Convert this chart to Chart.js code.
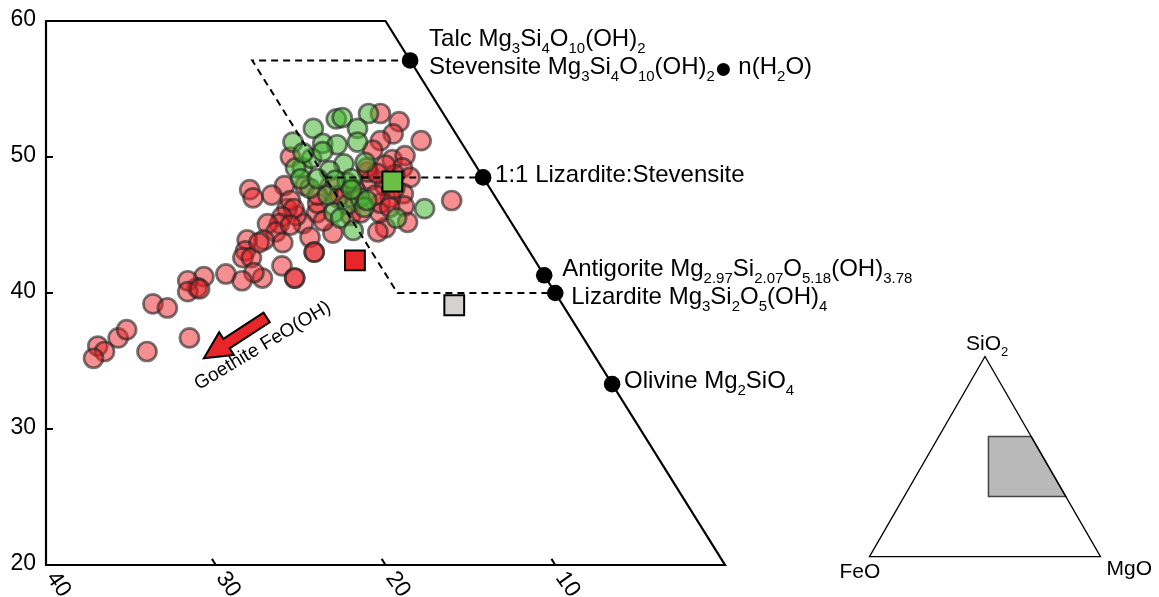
<!DOCTYPE html>
<html><head><meta charset="utf-8">
<script src="https://cdn.jsdelivr.net/npm/chart.js@4.4.1/dist/chart.umd.min.js"></script>
<style>html,body{margin:0;padding:0;background:#fff;overflow:hidden}#wrap{width:1159px;height:597px}</style>
</head><body><div id="wrap"><canvas id="c" width="1159" height="597"></canvas></div>
<script>
// ---- data: molar % FeO and SiO2 (MgO = remainder) ----
const redFeO = [3.7,2.9,3.7,2.3,4.7,5.5,4.7,3.8,4.4,4.3,5.3,5.7,2.7,6.1,7.6,7.4,7.0,8.2,10.9,11.1,10.7,11.0,12.3,12.4,12.7,8.0,6.7,6.1,6.2,6.6,9.3,9.1,8.4,7.0,6.6,9.2,5.1,5.3,10.8,10.4,12.0,
  10.6,6.5,6.1,9.3,8.5,5.6,
  14.2,14.3,13.1,12.2,12.3,13.3,13.7,14.4,12.4,12.7,12.7,14.2,14.2,15.2,16.2,16.7,17.1,16.6,15.6,15.1,14.8,14.8,16.7,17.0,18.0,18.7,20.1,20.9,21.2,21.6,20.8,24.1,23.4,23.2,26.2,27.4,26.6,28.9,28.7,29.6,13.1];
const redSiO2 = [53.2,52.6,51.7,51.2,51.2,50.5,49.8,50.1,49.2,48.5,47.3,46.4,46.8,45.2,44.8,45.9,46.6,44.5,44.4,45.9,46.6,45.3,45.1,45.7,46.2,47.6,48.3,47.9,47.0,48.9,47.9,47.2,46.8,47.2,46.3,45.7,48.7,49.4,47.9,47.2,47.9,
  50.0,49.2,48.8,47.0,45.9,47.7,
  47.6,47.0,47.2,46.8,46.2,45.6,45.1,45.1,44.1,43.0,43.0,44.5,43.7,43.9,43.9,43.1,42.6,42.6,43.7,42.0,41.1,41.1,41.1,41.5,40.9,41.4,41.2,40.4,40.9,40.1,40.3,39.2,38.9,36.7,35.7,36.7,37.3,36.1,35.7,35.2,45.0];
const greenFeO = [6.5,6.1,4.4,8.2,5.6,9.9,8.2,7.4,6.1,10.3,9.4,7.7,6.4,8.8,10.6,10.7,8.2,10.8,9.8,10.1,9.0,8.0,8.1,9.9,9.6,7.7,6.6,4.6,8.5,9.7,7.8,9.8,8.8,8.2];
const greenSiO2 = [52.8,52.9,53.2,52.1,52.1,51.1,51.0,50.9,51.1,49.2,49.9,49.5,49.6,49.0,47.7,49.2,48.1,48.4,47.2,45.9,46.5,47.0,46.3,45.5,44.6,46.8,45.5,46.2,50.4,50.3,48.4,48.4,48.3,47.6];
// averages (green, red, grey squares)
const squareFeO = [5.5, 10.6, 6.4];
const squareSiO2 = [48.2, 42.4, 39.1];
const squareColors = ['#6abf45', '#e8262a', '#d4d1d0'];
// reference minerals on the FeO = 0 edge
const mineralFeO = [0, 0, 0, 0, 0];
const mineralSiO2 = [57.1, 48.5, 41.3, 40.0, 33.3];
// dashed field outline
const fieldFeO = [0, 9.3, 9.3, 0];
const fieldSiO2 = [57.1, 57.1, 40.0, 40.0];
const midFeO = [9.3, 0];
const midSiO2 = [48.5, 48.5];
// goethite trend arrow (tail, tip)
const arrowFeO = [17.9, 23.1];
const arrowSiO2 = [38.2, 35.2];
// axes
const sio2Ticks = [60, 50, 40, 30, 20];
const feoTicks = [40, 30, 20, 10];
// inset ternary grey field (SiO2, FeO)
const insetSiO2 = [60, 60, 30, 30];
const insetFeO = [18.5, 0, 0, 33.5];

const FONT = '"Liberation Sans", Arial, Helvetica, sans-serif';
// ternary shear: FeO isolines parallel to the FeO = 0 edge
const proj = (fe, si) => ({x: fe + 0.5 * (si - 20), y: si});
const pts = (fa, sa) => fa.map((f, i) => proj(f, sa[i]));

const labelParts = [
  [{t:'Talc Mg'},{t:'3',s:1},{t:'Si'},{t:'4',s:1},{t:'O'},{t:'10',s:1},{t:'(OH)'},{t:'2',s:1}],
  [{t:'1:1 Lizardite:Stevensite'}],
  [{t:'Antigorite Mg'},{t:'2.97',s:1},{t:'Si'},{t:'2.07',s:1},{t:'O'},{t:'5.18',s:1},{t:'(OH)'},{t:'3.78',s:1}],
  [{t:'Lizardite Mg'},{t:'3',s:1},{t:'Si'},{t:'2',s:1},{t:'O'},{t:'5',s:1},{t:'(OH)'},{t:'4',s:1}],
  [{t:'Olivine Mg'},{t:'2',s:1},{t:'SiO'},{t:'4',s:1}]
];
const stevensiteParts = [{t:'Stevensite Mg'},{t:'3',s:1},{t:'Si'},{t:'4',s:1},{t:'O'},{t:'10',s:1},{t:'(OH)'},{t:'2',s:1},{t:'•',b:1},{t:' n(H'},{t:'2',s:1},{t:'O)'}];
const labelOffsets = [[19,-14],[12,5],[18,1],[16,11],[12,4]];

function drawRich(ctx, x, y, parts, size) {
  let cx = x;
  ctx.textAlign = 'left'; ctx.textBaseline = 'alphabetic';
  for (const p of parts) {
    let dy = 0;
    if (p.s) { ctx.font = Math.round(size * 0.62) + 'px ' + FONT; dy = size * 0.29; }
    else if (p.b) { ctx.font = Math.round(size * 2.0) + 'px ' + FONT; dy = 11; }
    else ctx.font = size + 'px ' + FONT;
    ctx.fillText(p.t, cx, y + dy);
    cx += ctx.measureText(p.t).width;
  }
}

const overlay = {
  id: 'overlay',
  beforeDatasetsDraw(chart) {
    const {ctx, scales: {x, y}} = chart;
    const P = (fe, si) => { const q = proj(fe, si); return [x.getPixelForValue(q.x), y.getPixelForValue(q.y)]; };
    const siMax = sio2Ticks[0], siMin = sio2Ticks[sio2Ticks.length - 1], feMax = feoTicks[0];
    ctx.save();
    ctx.strokeStyle = '#000'; ctx.lineWidth = 2.2; ctx.lineJoin = 'miter';
    const corners = [[feMax - (siMax - siMin) / 2, siMax], [0, siMax], [0, siMin], [feMax, siMin]];
    ctx.beginPath();
    corners.forEach((c, i) => { const [px, py] = P(c[0], c[1]); i ? ctx.lineTo(px, py) : ctx.moveTo(px, py); });
    ctx.closePath(); ctx.stroke();
    // y ticks (inward) + labels
    ctx.fillStyle = '#000'; ctx.font = '23px ' + FONT; ctx.textAlign = 'right'; ctx.textBaseline = 'middle';
    ctx.lineWidth = 2;
    sio2Ticks.forEach(v => {
      const py = y.getPixelForValue(v);
      ctx.beginPath(); ctx.moveTo(x.left, py); ctx.lineTo(x.left + 7, py); ctx.stroke();
      ctx.fillText(String(v), x.left - 10, py - 1);
    });
    // x ticks (slanted along FeO isolines) + rotated labels
    feoTicks.forEach(v => {
      const [px, py] = P(v, siMin);
      if (v !== feMax) {
        const [qx, qy] = P(v, siMin + 0.45);
        ctx.beginPath(); ctx.moveTo(px, py); ctx.lineTo(qx, qy); ctx.stroke();
      }
      ctx.save();
      ctx.translate(px + 5, py + 9);
      ctx.rotate(55 * Math.PI / 180);
      ctx.textAlign = 'left'; ctx.textBaseline = 'middle';
      ctx.font = '23px ' + FONT;
      ctx.fillText(String(v), 0, 0);
      ctx.restore();
    });
    // inset ternary diagram
    const apex = {x: 985, y: 356.5}, side = 231, h = side * Math.sqrt(3) / 2;
    const bl = {x: apex.x - side / 2, y: apex.y + h}, br = {x: apex.x + side / 2, y: apex.y + h};
    const T = (si, fe) => { const mg = 100 - si - fe; return [bl.x + side * (mg + si / 2) / 100, bl.y - h * si / 100]; };
    ctx.beginPath();
    insetSiO2.forEach((s, i) => { const [px, py] = T(s, insetFeO[i]); i ? ctx.lineTo(px, py) : ctx.moveTo(px, py); });
    ctx.closePath(); ctx.fillStyle = '#b9b9b9'; ctx.fill();
    ctx.strokeStyle = '#444'; ctx.lineWidth = 1.5; ctx.stroke();
    ctx.beginPath(); ctx.moveTo(apex.x, apex.y); ctx.lineTo(br.x, br.y); ctx.lineTo(bl.x, bl.y); ctx.closePath();
    ctx.strokeStyle = '#000'; ctx.lineWidth = 1.3; ctx.stroke();
    ctx.fillStyle = '#000';
    drawRich(ctx, apex.x - 19, apex.y - 6.5, [{t:'SiO'},{t:'2',s:1}], 21);
    drawRich(ctx, bl.x - 30, bl.y + 21.5, [{t:'FeO'}], 21);
    drawRich(ctx, br.x + 6, br.y + 18.5, [{t:'MgO'}], 21);
    ctx.restore();
  },
  afterDatasetsDraw(chart) {
    const {ctx, scales: {x, y}} = chart;
    const P = (fe, si) => { const q = proj(fe, si); return [x.getPixelForValue(q.x), y.getPixelForValue(q.y)]; };
    ctx.save();
    // arrow
    const [tx, ty] = P(arrowFeO[0], arrowSiO2[0]);
    const [hx, hy] = P(arrowFeO[1], arrowSiO2[1]);
    const len = Math.hypot(hx - tx, hy - ty), dx = (hx - tx) / len, dy = (hy - ty) / len, nx = -dy, ny = dx;
    const sw = 5.7, hw = 13.5, hl = 27;
    const bx = hx - dx * hl, by = hy - dy * hl;
    ctx.beginPath();
    ctx.moveTo(tx + nx * sw, ty + ny * sw);
    ctx.lineTo(bx + nx * sw, by + ny * sw);
    ctx.lineTo(bx + nx * hw, by + ny * hw);
    ctx.lineTo(hx, hy);
    ctx.lineTo(bx - nx * hw, by - ny * hw);
    ctx.lineTo(bx - nx * sw, by - ny * sw);
    ctx.lineTo(tx - nx * sw, ty - ny * sw);
    ctx.closePath();
    ctx.fillStyle = '#e8262a'; ctx.fill();
    ctx.strokeStyle = '#000'; ctx.lineWidth = 2; ctx.lineJoin = 'miter'; ctx.stroke();
    // arrow caption
    ctx.save();
    ctx.translate(hx - 5, hy + 32);
    ctx.rotate(-31 * Math.PI / 180);
    ctx.fillStyle = '#000'; ctx.font = '19px ' + FONT; ctx.textAlign = 'left'; ctx.textBaseline = 'alphabetic';
    ctx.fillText('Goethite FeO(OH)', 0, 0);
    ctx.restore();
    // mineral labels
    ctx.fillStyle = '#000';
    mineralSiO2.forEach((s, i) => {
      const [px, py] = P(mineralFeO[i], s);
      const [ox, oy] = labelOffsets[i];
      drawRich(ctx, px + ox, py + oy, labelParts[i], 24);
      if (i === 0) drawRich(ctx, px + ox, py + 14, stevensiteParts, 24);
    });
    ctx.restore();
  }
};

const ptBorder = 'rgba(35,35,35,0.62)';
new Chart(document.getElementById('c'), {
  type: 'scatter',
  data: {
    datasets: [
      {label: 'Minerals', data: pts(mineralFeO, mineralSiO2), pointRadius: 8.3, pointBackgroundColor: '#000', pointBorderColor: '#000', pointBorderWidth: 0, order: 0},
      {label: 'Averages', data: pts(squareFeO, squareSiO2), pointStyle: 'rect', pointRadius: 14, pointBackgroundColor: squareColors, pointBorderColor: '#000', pointBorderWidth: 2, order: 1},
      {label: 'Field', data: pts(fieldFeO, fieldSiO2), showLine: true, borderColor: '#000', borderWidth: 2, borderDash: [7, 5], pointRadius: 0, fill: false, order: 2},
      {label: 'Field mid', data: pts(midFeO, midSiO2), showLine: true, borderColor: '#000', borderWidth: 2, borderDash: [7, 5], pointRadius: 0, fill: false, order: 2},
      {label: 'Green', data: pts(greenFeO, greenSiO2), pointRadius: 9.5, pointBackgroundColor: 'rgba(70,180,50,0.55)', pointBorderColor: ptBorder, pointBorderWidth: 2.7, order: 3},
      {label: 'Red', data: pts(redFeO, redSiO2), pointRadius: 9.5, pointBackgroundColor: 'rgba(236,32,36,0.5)', pointBorderColor: ptBorder, pointBorderWidth: 2.7, order: 4}
    ]
  },
  options: {
    responsive: false, animation: false, devicePixelRatio: 1,
    layout: {padding: {left: 46, right: 434, top: 21, bottom: 32}},
    scales: {
      x: {type: 'linear', min: 0, max: 40, reverse: true, display: false},
      y: {type: 'linear', min: 20, max: 60, display: false}
    },
    plugins: {legend: {display: false}, tooltip: {enabled: false}},
    events: []
  },
  plugins: [overlay]
});
</script></body></html>
